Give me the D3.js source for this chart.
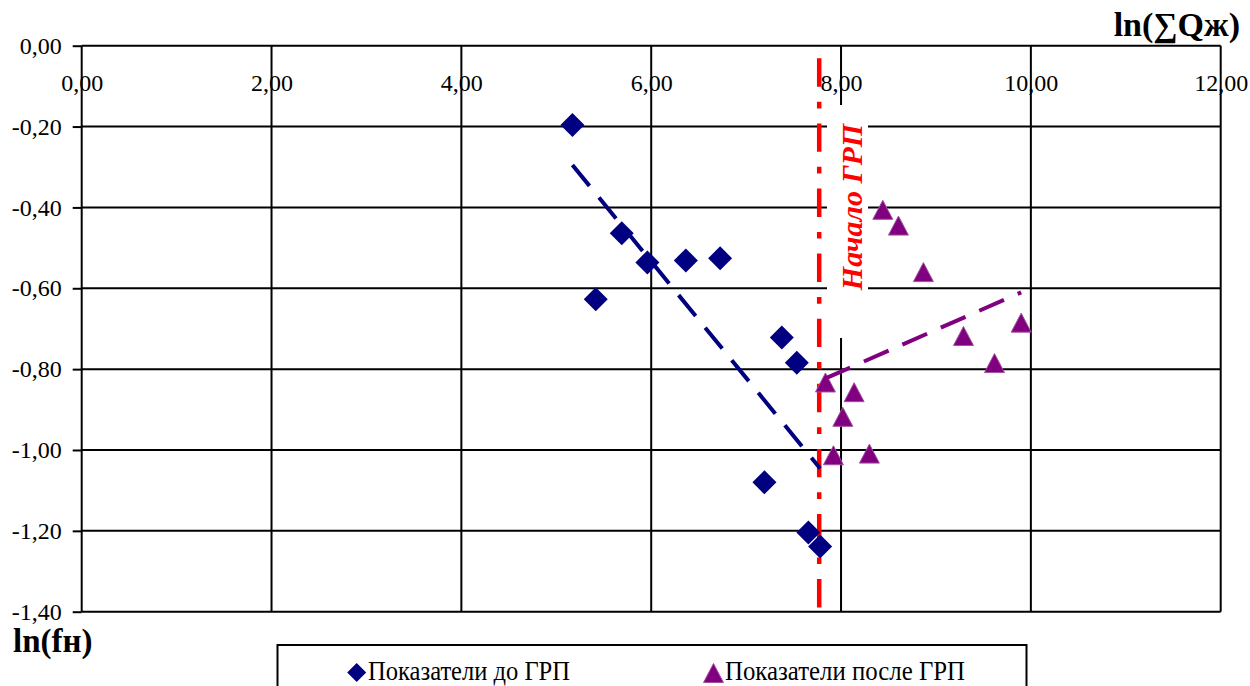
<!DOCTYPE html>
<html>
<head>
<meta charset="utf-8">
<script src="https://cdn.jsdelivr.net/npm/d3@7"></script>
<style>
  html, body { margin: 0; padding: 0; background: #ffffff; }
  svg { display: block; }
</style>
</head>
<body>
<svg id="chart" width="1250" height="686"></svg>
<script>
// Tick values of both axes
const xTicks = [0, 2, 4, 6, 8, 10, 12];
const yTicks = [0, -0.2, -0.4, -0.6, -0.8, -1.0, -1.2, -1.4];

// Wells before hydraulic fracturing
const beforeX = [5.170, 5.416, 5.690, 5.960, 6.365, 6.726, 7.376, 7.534, 7.193, 7.656, 7.780];
const beforeY = [-0.196, -0.627, -0.464, -0.536, -0.531, -0.526, -0.722, -0.784, -1.080, -1.204, -1.239];

// Wells after hydraulic fracturing
const afterX = [8.440, 8.605, 8.868, 9.898, 9.290, 9.617, 7.836, 8.138, 8.019, 7.920, 8.299];
const afterY = [-0.406, -0.445, -0.560, -0.685, -0.718, -0.785, -0.833, -0.857, -0.918, -1.013, -1.009];

// Linear trend lines (end points)
const trendBeforeX = [5.17, 7.78];
const trendBeforeY = [-0.295, -1.046];
const trendAfterX = [7.836, 9.898];
const trendAfterY = [-0.823, -0.610];

// Moment the fracturing started
const fracStartX = 7.77;

const seriesNames = ["Показатели до ГРП", "Показатели после ГРП"];
const xTitle = "ln(∑Qж)";
const yTitle = "ln(fн)";
const fracLabel = "Начало ГРП";

const FONT = "'Liberation Serif', 'Times New Roman', serif";
const NAVY = "#000080";
const PURPLE = "#800080";
const RED = "#ff0000";

const svg = d3.select("#chart");
svg.append("rect").attr("width", 1250).attr("height", 686).attr("fill", "#ffffff");

const x = d3.scaleLinear().domain([0, 12]).range([81.7, 1220.7]);
const y = d3.scaleLinear().domain([-1.4, 0]).range([611.7, 45.7]);

const ruLocale = d3.formatLocale({
  decimal: ",", thousands: " ", grouping: [3], currency: ["", ""], minus: "-"
});
const fmt = ruLocale.format(".2f");

// X tick labels sit just under the top edge of the plot
const xAxis = d3.axisBottom(x).tickValues(xTicks).tickFormat(fmt).tickSize(0).tickPadding(28.5);
const gx = svg.append("g").attr("transform", `translate(0,${y(0)})`).call(xAxis);
gx.select(".domain").remove();
gx.selectAll("text").attr("font-family", FONT).attr("font-size", 24).attr("fill", "#000");

// Y axis: short outer ticks and labels
const yAxis = d3.axisLeft(y).tickValues(yTicks).tickFormat(fmt).tickSize(9).tickPadding(11);
const gy = svg.append("g").attr("transform", `translate(${x(0)},0)`).call(yAxis);
gy.select(".domain").remove();
gy.selectAll("line").attr("stroke", "#000").attr("stroke-width", 2);
gy.selectAll("text").attr("font-family", FONT).attr("font-size", 24).attr("fill", "#000");

// Grid
const grid = svg.append("g").attr("stroke", "#000").attr("stroke-width", 2);
grid.selectAll("line.v").data(xTicks).join("line").attr("class", "v")
  .attr("x1", d => x(d)).attr("x2", d => x(d))
  .attr("y1", y(0)).attr("y2", y(-1.4));
grid.selectAll("line.h").data(yTicks).join("line").attr("class", "h")
  .attr("x1", x(0)).attr("x2", x(12))
  .attr("y1", d => y(d)).attr("y2", d => y(d));

// White text box for the fracturing label
svg.append("rect").attr("x", 827).attr("y", 105).attr("width", 41).attr("height", 233)
  .attr("fill", "#ffffff");

// Vertical dash-dot line marking the start of fracturing
svg.append("line")
  .attr("x1", x(fracStartX)).attr("x2", x(fracStartX))
  .attr("y1", y(0)).attr("y2", y(-1.4))
  .attr("stroke", RED).attr("stroke-width", 4.5)
  .attr("stroke-dasharray", "28.4,15,6.7,15").attr("stroke-dashoffset", 52.5);

svg.append("text")
  .attr("transform", `translate(851,207) rotate(-90)`)
  .attr("text-anchor", "middle").attr("dominant-baseline", "central")
  .attr("font-family", FONT).attr("font-size", 30)
  .attr("font-weight", "bold").attr("font-style", "italic")
  .attr("fill", RED).text(fracLabel);

// Marker shapes
const diamondType = {
  draw(ctx, size) {
    const r = Math.sqrt(size) / 2;
    ctx.moveTo(0, -r); ctx.lineTo(r, 0); ctx.lineTo(0, r); ctx.lineTo(-r, 0); ctx.closePath();
  }
};
const triangleType = {
  draw(ctx, size) {
    const h = Math.sqrt(size) / 2;
    ctx.moveTo(0, -h); ctx.lineTo(h * 1.05, h); ctx.lineTo(-h * 1.05, h); ctx.closePath();
  }
};
const diamond = d3.symbol(diamondType, 24 * 24);
const triangle = d3.symbol(triangleType, 19 * 19);

const beforePts = beforeX.map((v, i) => [v, beforeY[i]]);
const afterPts = afterX.map((v, i) => [v, afterY[i]]);

svg.append("g").selectAll("path").data(beforePts).join("path")
  .attr("d", diamond)
  .attr("transform", d => `translate(${x(d[0])},${y(d[1])})`)
  .attr("fill", NAVY);

svg.append("g").selectAll("path").data(afterPts).join("path")
  .attr("d", triangle)
  .attr("transform", d => `translate(${x(d[0])},${y(d[1])})`)
  .attr("fill", PURPLE).attr("stroke", "#a2529f").attr("stroke-width", 1);

// Trend lines
const line = d3.line().x(d => x(d[0])).y(d => y(d[1]));
svg.append("path")
  .datum(trendBeforeX.map((v, i) => [v, trendBeforeY[i]]))
  .attr("d", line).attr("fill", "none")
  .attr("stroke", NAVY).attr("stroke-width", 4).attr("stroke-dasharray", "27,15");
svg.append("path")
  .datum(trendAfterX.map((v, i) => [v, trendAfterY[i]]))
  .attr("d", line).attr("fill", "none")
  .attr("stroke", PURPLE).attr("stroke-width", 4).attr("stroke-dasharray", "27,15");

// Axis titles
svg.append("text").attr("x", 1240).attr("y", 36).attr("text-anchor", "end")
  .attr("font-family", FONT).attr("font-size", 34).attr("font-weight", "bold")
  .attr("fill", "#000").text(xTitle);
svg.append("text").attr("x", 13).attr("y", 652)
  .attr("font-family", FONT).attr("font-size", 33).attr("font-weight", "bold")
  .attr("fill", "#000").text(yTitle);

// Legend
const legend = svg.append("g");
legend.append("rect").attr("x", 277.5).attr("y", 645).attr("width", 749).attr("height", 60)
  .attr("fill", "#ffffff").attr("stroke", "#000").attr("stroke-width", 2);
legend.append("path").attr("d", d3.symbol(diamondType, 19 * 19))
  .attr("transform", "translate(356.7,672.5)").attr("fill", NAVY);
legend.append("text").attr("x", 368).attr("y", 680)
  .attr("font-family", FONT).attr("font-size", 27)
  .attr("textLength", 202).attr("lengthAdjust", "spacingAndGlyphs")
  .attr("fill", "#000").text(seriesNames[0]);
legend.append("path").attr("d", d3.symbol(triangleType, 19 * 19))
  .attr("transform", "translate(713.5,673)").attr("fill", PURPLE)
  .attr("stroke", "#a2529f").attr("stroke-width", 1);
legend.append("text").attr("x", 725).attr("y", 680)
  .attr("font-family", FONT).attr("font-size", 27)
  .attr("textLength", 240).attr("lengthAdjust", "spacingAndGlyphs")
  .attr("fill", "#000").text(seriesNames[1]);
</script>
</body>
</html>
